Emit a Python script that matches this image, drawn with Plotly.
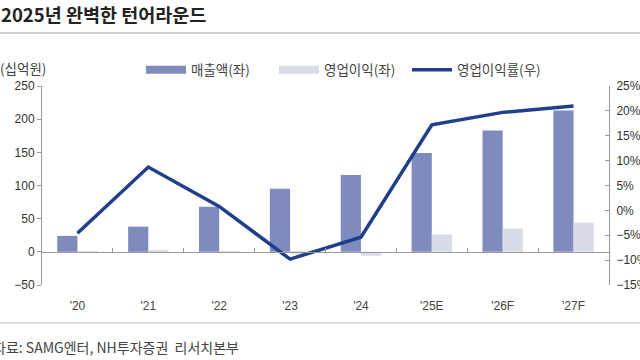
import plotly.graph_objects as go

categories = ["'20", "'21", "'22", "'23", "'24", "'25E", "'26F", "'27F"]
revenue = [24, 38, 68, 95, 116, 149, 183, 213]
op_profit = [1, 2, 1, -3, -6, 26, 35, 44]
op_margin = [-4.6, 8.7, 0.8, -9.8, -5.4, 17.2, 19.7, 21.0]
series_names = ["매출액(좌)", "영업이익(좌)", "영업이익률(우)"]

FONT = "Liberation Sans, Arial, Noto Sans CJK KR, sans-serif"
KFONT = "Noto Sans CJK KR, Liberation Sans, sans-serif"
C_REV, C_OP, C_LINE = "#7F8BBD", "#D8DCE7", "#1F3F8A"

W, H = 640, 360
L, R, T, B = 42, 31, 86, 75
pw, ph = W - L - R, H - T - B

def px(x):
    return (x - L) / pw

def py(y):
    return (H - B - y) / ph

fig = go.Figure()
fig.add_trace(go.Bar(x=categories, y=revenue, name=series_names[0], showlegend=False,
                     marker=dict(color=C_REV, line=dict(width=0))))
fig.add_trace(go.Bar(x=categories, y=op_profit, name=series_names[1], showlegend=False,
                     marker=dict(color=C_OP, line=dict(width=0))))
fig.add_trace(go.Scatter(x=categories, y=op_margin, name=series_names[2], yaxis="y2",
                         mode="lines", showlegend=False, line=dict(color=C_LINE, width=3.5)))
# legend entries (wide swatches as in the reference)
for nm, col, w in [(series_names[0], C_REV, 8), (series_names[1], C_OP, 8), (series_names[2], C_LINE, 3.5)]:
    fig.add_trace(go.Scatter(x=[None], y=[None], name=nm, mode="lines",
                             line=dict(color=col, width=w), hoverinfo="skip"))
fig.add_trace(go.Scatter(x=categories, y=[None] * len(categories), xaxis="x2", yaxis="y",
                         showlegend=False, hoverinfo="skip", mode="lines"))

fig.update_layout(
    width=W, height=H,
    margin=dict(l=L, r=R, t=T, b=B, autoexpand=False),
    paper_bgcolor="white", plot_bgcolor="white",
    font=dict(family=FONT, size=12, color="#333"),
    barmode="group", bargap=0.43, bargroupgap=0,
    showlegend=True,
    legend=dict(orientation="h", x=px(141), y=py(70), xanchor="left", yanchor="middle",
                font=dict(family=KFONT, size=13.5, color="#444"),
                itemwidth=40, entrywidth=78, entrywidthmode="pixels",
                bgcolor="rgba(0,0,0,0)"),
    xaxis=dict(type="category", showline=False, ticks="", showgrid=False, zeroline=False,
               tickfont=dict(size=12, color="#444"), range=[-0.5, 7.5], ticklabelstandoff=12),
    xaxis2=dict(type="category", overlaying="x", anchor="free", position=50 / 300,
                showline=True, linecolor="#999", linewidth=1, ticks="inside", ticklen=4,
                tickcolor="#999", tickson="boundaries", showticklabels=False,
                showgrid=False, zeroline=False, range=[-0.5, 7.5]),
    yaxis=dict(range=[-50, 250], dtick=50, showline=True, linecolor="#999", linewidth=1,
               ticks="outside", ticklen=4, tickcolor="#999", showgrid=False, zeroline=False,
               tickfont=dict(size=12, color="#333")),
    yaxis2=dict(range=[-15, 25], dtick=5, ticksuffix="%", overlaying="y", side="right",
                showline=True, linecolor="#999", linewidth=1, ticks="inside", ticklen=4,
                tickcolor="#999", showgrid=False, zeroline=False, ticklabelstandoff=4,
                tickfont=dict(size=12, color="#333")),
)

fig.add_annotation(text="<b>2025년 완벽한 턴어라운드</b>", xref="paper", yref="paper",
                   x=px(-1), y=py(14), xanchor="left", yanchor="middle", showarrow=False,
                   font=dict(family=KFONT, size=18.5, color="#222"))
fig.add_annotation(text="(십억원)", xref="paper", yref="paper",
                   x=px(-2), y=py(68), xanchor="left", yanchor="middle", showarrow=False,
                   font=dict(family=KFONT, size=13.5, color="#444"))
fig.add_annotation(text="자료: SAMG엔터, NH투자증권  리서치본부", xref="paper", yref="paper",
                   x=px(-9), y=py(347), xanchor="left", yanchor="middle", showarrow=False,
                   font=dict(family=KFONT, size=14, color="#444"))
fig.add_shape(type="line", xref="paper", yref="paper", x0=px(0), x1=px(W), y0=py(33), y1=py(33),
              line=dict(color="#CFCFCF", width=2))
fig.add_shape(type="line", xref="paper", yref="paper", x0=px(0), x1=px(W), y0=py(323), y1=py(323),
              line=dict(color="#DDDDDD", width=2))

fig.write_html("out.html", config={"displayModeBar": False},
               post_script="document.body.style.margin='0';")
